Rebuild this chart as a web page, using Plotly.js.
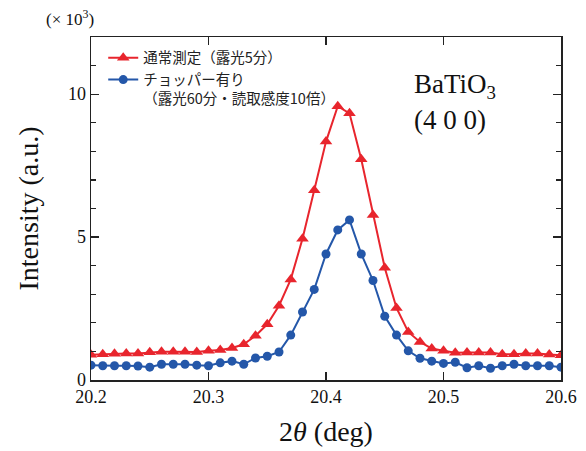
<!DOCTYPE html>
<html>
<head>
<meta charset="utf-8">
<script src="https://cdn.plot.ly/plotly-3.0.1.min.js"></script>
<style>html,body{margin:0;padding:0;background:#fff;}#chart{width:586px;height:451px;}</style>
</head>
<body>
<div id="chart"></div>
<script>
const twoTheta = [20.20,20.21,20.22,20.23,20.24,20.25,20.26,20.27,20.28,20.29,
  20.30,20.31,20.32,20.33,20.34,20.35,20.36,20.37,20.38,20.39,
  20.40,20.41,20.42,20.43,20.44,20.45,20.46,20.47,20.48,20.49,
  20.50,20.51,20.52,20.53,20.54,20.55,20.56,20.57,20.58,20.59,20.60];
const normalIntensity = [0.88,0.90,0.92,0.93,0.93,0.97,0.99,0.99,0.99,0.98,
  1.02,1.05,1.12,1.25,1.55,1.95,2.60,3.52,4.94,6.64,
  8.34,9.58,9.33,7.72,5.77,3.93,2.52,1.68,1.33,1.10,
  1.02,0.95,0.96,0.96,0.96,0.90,0.90,0.93,0.93,0.89,0.87];
const chopperIntensity = [0.52,0.50,0.50,0.50,0.49,0.45,0.55,0.55,0.55,0.52,
  0.50,0.60,0.66,0.55,0.77,0.83,0.98,1.57,2.38,3.17,
  4.41,5.25,5.60,4.41,3.48,2.23,1.57,1.02,0.76,0.66,
  0.58,0.62,0.43,0.50,0.41,0.50,0.55,0.50,0.50,0.50,0.45];
const seriesNames = ['通常測定（露光5分）', 'チョッパー有り<br>（露光60分・読取感度10倍）'];
const xTicks = [20.2, 20.3, 20.4, 20.5, 20.6];
const xTickLabels = ['20.2', '20.3', '20.4', '20.5', '20.6'];
const yTicks = [0, 5, 10];
const yTickLabels = ['0', '5', '10'];

const serif = 'Liberation Serif, Times New Roman, serif';
const red = '#e8252d';
const blue = '#2457a9';

const traces = [
  {x: twoTheta, y: normalIntensity, name: seriesNames[0], mode: 'lines+markers', type: 'scatter',
   line: {color: red, width: 2}, marker: {symbol: 'triangle-up', size: 11, color: red}},
  {x: twoTheta, y: chopperIntensity, name: seriesNames[1], mode: 'lines+markers', type: 'scatter',
   line: {color: blue, width: 2}, marker: {symbol: 'circle', size: 9, color: blue}}
];

const axisCommon = {showgrid: false, zeroline: false, showline: true, linecolor: '#222', linewidth: 1.5,
  mirror: 'ticks', ticks: 'inside', tickcolor: '#222', tickwidth: 1.3,
  tickfont: {family: serif, size: 18, color: '#111'}};

const layout = {
  width: 586, height: 451,
  margin: {l: 91, r: 25, t: 37, b: 71},
  paper_bgcolor: '#fff', plot_bgcolor: '#fff',
  showlegend: true,
  legend: {x: 0.026, y: 0.986, xanchor: 'left', yanchor: 'top', bgcolor: 'rgba(0,0,0,0)',
    font: {family: 'Noto Sans CJK JP', size: 14.5, color: '#222'}, valign: 'top', tracegroupgap: 0},
  xaxis: Object.assign({}, axisCommon, {range: [20.2, 20.6], tickmode: 'array', tickvals: xTicks, ticktext: xTickLabels,
    ticklen: 8, title: {text: '2<i>θ</i> (deg)', font: {family: serif, size: 28, color: '#111'}, standoff: 15}}),
  yaxis: Object.assign({}, axisCommon, {range: [0, 12], tickmode: 'array', tickvals: yTicks, ticktext: yTickLabels,
    ticklen: 8, minor: {dtick: 1, tick0: 0, ticks: 'inside', ticklen: 5, tickcolor: '#222', tickwidth: 1.3},
    title: {text: 'Intensity (a.u.)', font: {family: serif, size: 28, color: '#111'}, standoff: 21}}),
  annotations: [
    {xref: 'paper', yref: 'paper', x: 0.682, y: 0.857, xanchor: 'left', yanchor: 'middle', showarrow: false,
     text: 'BaTiO<sub>3</sub>', font: {family: serif, size: 27, color: '#111'}},
    {xref: 'paper', yref: 'paper', x: 0.682, y: 0.758, xanchor: 'left', yanchor: 'middle', showarrow: false,
     text: '(4 0 0)', font: {family: serif, size: 27, color: '#111'}},
    {xref: 'paper', yref: 'paper', x: -0.045, y: 1.055, xanchor: 'center', yanchor: 'middle', showarrow: false,
     text: '(× 10<sup>3</sup>)', font: {family: serif, size: 17, color: '#111'}}
  ]
};

Plotly.newPlot('chart', traces, layout, {displayModeBar: false, staticPlot: true});
</script>
</body>
</html>
